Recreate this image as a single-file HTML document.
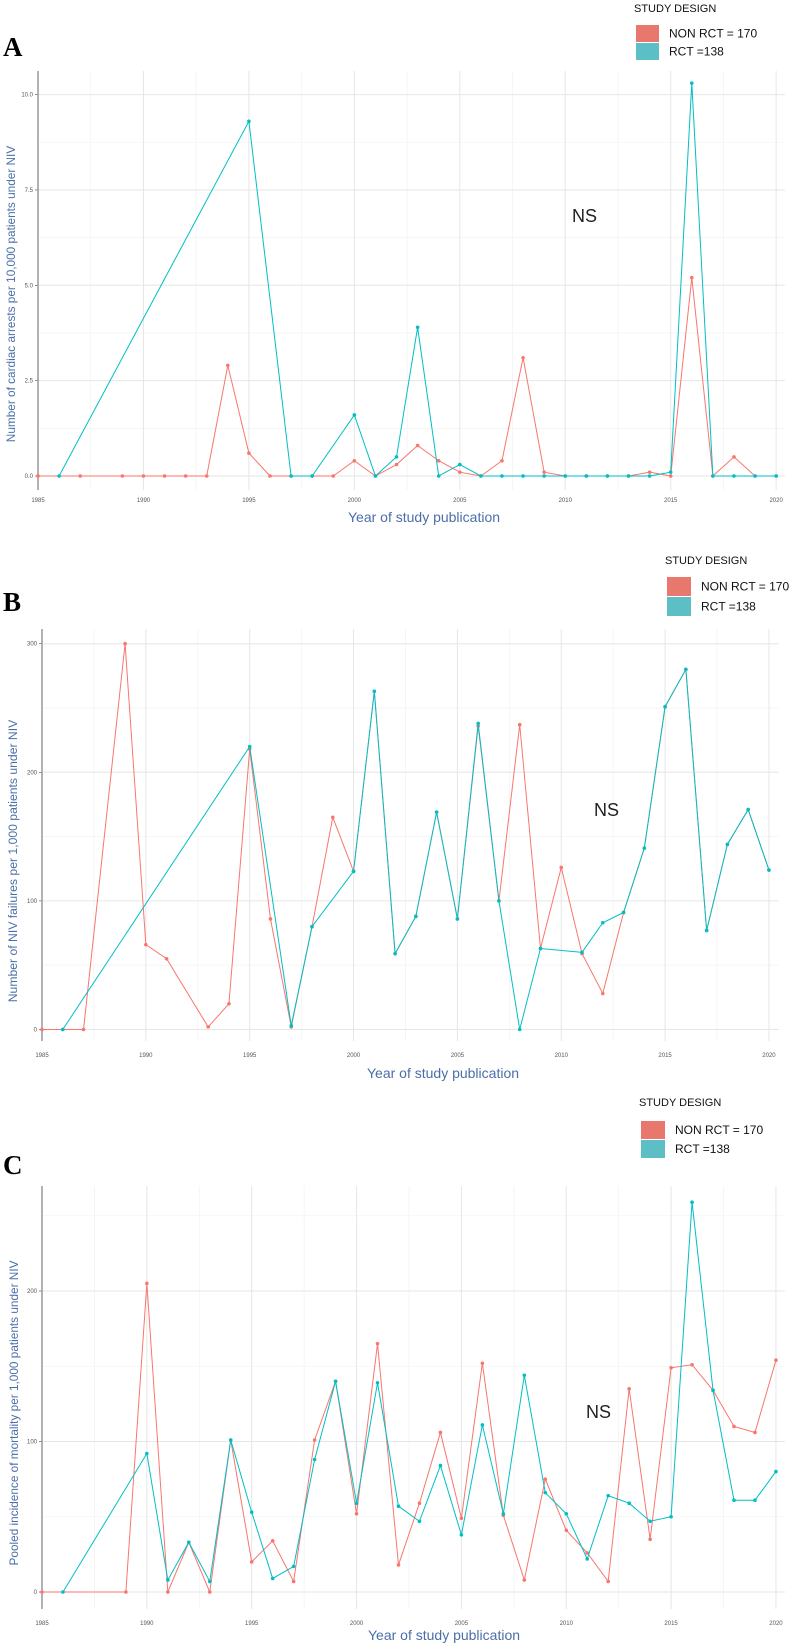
<!DOCTYPE html>
<html><head><meta charset="utf-8">
<style>
body{margin:0;background:#fff;}
svg{display:block;font-family:"Liberation Sans",sans-serif;}
</style></head>
<body>
<svg id="chart" width="793" height="1649" viewBox="0 0 793 1649" xmlns="http://www.w3.org/2000/svg"></svg>
<script>
// ---- Panel A data ----
const aRedYears = [1985,1987,1989,1990,1991,1992,1993,1994,1995,1996,1997,1998,1999,2000,2001,2002,2003,2004,2005,2006,2007,2008,2009,2010,2011,2012,2013,2014,2015,2016,2017,2018,2019,2020];
const aRedVals  = [0,0,0,0,0,0,0,2.9,0.6,0,0,0,0,0.4,0,0.3,0.8,0.4,0.1,0,0.4,3.1,0.1,0,0,0,0,0.1,0,5.2,0,0.5,0,0];
const aTealYears = [1986,1995,1997,1998,2000,2001,2002,2003,2004,2005,2006,2007,2008,2009,2010,2011,2012,2013,2014,2015,2016,2017,2018,2019,2020];
const aTealVals  = [0,9.3,0,0,1.6,0,0.5,3.9,0,0.3,0,0,0,0,0,0,0,0,0,0.1,10.3,0,0,0,0];
const aYTicks = [0,2.5,5,7.5,10];
const aYTickLabels = ["0.0","2.5","5.0","7.5","10.0"];
// ---- Panel B data ----
const bRedYears = [1985,1986,1987,1989,1990,1991,1993,1994,1995,1996,1997,1998,1999,2000,2001,2002,2003,2004,2005,2006,2007,2008,2009,2010,2011,2012,2013,2014,2015,2016,2017,2018,2019,2020];
const bRedVals  = [0,0,0,300,66,55,2,20,218,86,2,80,165,123,263,59,88,169,86,236,100,237,63,126,59,28,91,141,251,280,77,144,171,124];
const bTealYears = [1986,1995,1997,1998,2000,2001,2002,2003,2004,2005,2006,2007,2008,2009,2011,2012,2013,2014,2015,2016,2017,2018,2019,2020];
const bTealVals  = [0,220,3,80,123,263,59,88,169,86,238,100,0,63,60,83,91,141,251,280,77,144,171,124];
const bYTicks = [0,100,200,300];
const bYTickLabels = ["0","100","200","300"];
// ---- Panel C data ----
const cRedYears = [1985,1989,1990,1991,1992,1993,1994,1995,1996,1997,1998,1999,2000,2001,2002,2003,2004,2005,2006,2007,2008,2009,2010,2011,2012,2013,2014,2015,2016,2017,2018,2019,2020];
const cRedVals  = [0,0,205,0,33,0,101,20,34,7,101,140,52,165,18,59,106,49,152,51,8,75,41,26,7,135,35,149,151,134,110,106,154];
const cTealYears = [1986,1990,1991,1992,1993,1994,1995,1996,1997,1998,1999,2000,2001,2002,2003,2004,2005,2006,2007,2008,2009,2010,2011,2012,2013,2014,2015,2016,2017,2018,2019,2020];
const cTealVals  = [0,92,8,33,7,101,53,9,17,88,140,59,139,57,47,84,38,111,52,144,66,52,22,64,59,47,50,259,134,61,61,80];
const cYTicks = [0,100,200];
const cYTickLabels = ["0","100","200"];
const xTicks = [1985,1990,1995,2000,2005,2010,2015,2020];

const NS="http://www.w3.org/2000/svg";
const svg=document.getElementById('chart');
function mk(tag,attrs,parent){const e=document.createElementNS(NS,tag);for(const k in attrs)e.setAttribute(k,attrs[k]);(parent||svg).appendChild(e);return e;}

function panel(cfg){
  const g=mk('g',{});
  
  
  const xs=yr=>cfg.x0+(yr-1985)*cfg.xStep;
  const ys=v=>cfg.y0-v*cfg.yUnit;
  for(let yr=1987.5;yr<=2022.5;yr+=5){const x=xs(yr);if(x<cfg.r)mk('line',{x1:x,x2:x,y1:cfg.top,y2:cfg.bottom,stroke:'#f3f3f3','stroke-width':0.8},g);}
  for(let i=0;i<cfg.yTicks.length;i++){const v=cfg.yTicks[i]+cfg.minorStep;const y=ys(v);if(y>cfg.top)mk('line',{x1:cfg.x0,x2:cfg.r,y1:y,y2:y,stroke:'#f3f3f3','stroke-width':0.8},g);}
  xTicks.forEach(t=>{const x=xs(t);mk('line',{x1:x,x2:x,y1:cfg.top,y2:cfg.bottom,stroke:'#e6e6e6','stroke-width':1},g);
    const tl=mk('text',{x:x,y:cfg.xLabY,'font-size':6,fill:'#555','text-anchor':'middle'},g);tl.textContent=t;
    
    });
  cfg.yTicks.forEach((t,i)=>{const y=ys(t);mk('line',{x1:cfg.x0,x2:cfg.r,y1:y,y2:y,stroke:'#e6e6e6','stroke-width':1},g);
    mk('line',{x1:cfg.x0-3,x2:cfg.x0,y1:y,y2:y,stroke:'#444','stroke-width':0.6},g);
    const tl=mk('text',{x:cfg.x0-5,y:y+2,'font-size':6,fill:'#555','text-anchor':'end'},g);tl.textContent=cfg.yTickLabels[i];
    
    });
  const ax=mk('line',{x1:cfg.x0,x2:cfg.x0,y1:cfg.top,y2:cfg.bottom,stroke:'#999','stroke-width':1.5},g);
  
  
  [[cfg.redY,cfg.redV,'#F8766D','non-rct'],[cfg.tealY,cfg.tealV,'#00BFC4','rct']].forEach(([yrs,vals,col,nm])=>{
    const pts=yrs.map((yr,i)=>xs(yr)+','+ys(vals[i])).join(' ');
    const pl=mk('polyline',{points:pts,fill:'none',stroke:col,'stroke-width':1},g);
    
    
    yrs.forEach((yr,i)=>{const c=mk('circle',{cx:xs(yr),cy:ys(vals[i]),r:1.8,fill:col},g);
      
      });
  });
  const xt=mk('text',{x:cfg.xTitleX,y:cfg.xTitleY,'font-size':14,fill:'#4a6fa8','text-anchor':'middle','xml:space':'preserve'},g);
  xt.textContent='Year  of study publication';
  
  
  const yt=mk('text',{x:0,y:0,'font-size':cfg.yTitleSize,fill:'#4a6fa8','text-anchor':'middle',transform:`translate(${cfg.yTitleX},${cfg.yTitleY}) rotate(-90)`},g);
  yt.textContent=cfg.yTitle;
  
  
  const ns=mk('text',{x:cfg.nsX,y:cfg.nsY,'font-size':18,fill:'#222'},g);ns.textContent='NS';
  
  
  const lt=mk('text',{x:cfg.letX,y:cfg.letY,'font-size':27,'font-weight':'bold','font-family':'Liberation Serif, serif',fill:'#000'},g);lt.textContent=cfg.letter;
  
  
  const lg=mk('g',{},g);
  
  
  const tt=mk('text',{x:cfg.legX-2,y:cfg.legY,'font-size':11,fill:'#111'},lg);tt.textContent='STUDY DESIGN';
  
  
  [['#E8776D','NON RCT = 170'],['#5CBFC6','RCT =138']].forEach(([col,lab],i)=>{
    const y=cfg.legY+cfg.legOff+i*(cfg.swH+1);
    const r=mk('rect',{x:cfg.legX,y:y,width:cfg.swW,height:cfg.swH,fill:col},lg);
    
    
    const t=mk('text',{x:cfg.legX+cfg.swW+10,y:y+cfg.swH/2+4,'font-size':12,fill:'#111'},lg);t.textContent=lab;
    
    
  });
}
panel({name:'panel-a',letter:'A',letX:3,letY:56,x0:38,xStep:21.09,y0:476,yUnit:38.14,top:71,bottom:490,r:785,minorStep:1.25,
  yTicks:aYTicks,yTickLabels:aYTickLabels,redY:aRedYears,redV:aRedVals,tealY:aTealYears,tealV:aTealVals,xLabY:502,
  xTitleX:424,xTitleY:522,yTitleX:15,yTitleY:294,yTitleSize:11.8,yTitle:'Number of  cardiac arrests per 10,000 patients under NIV',
  nsX:572,nsY:222,legX:636,legY:12,legOff:13,swW:23,swH:17});
panel({name:'panel-b',letter:'B',letX:3,letY:611,x0:42,xStep:20.77,y0:1029.5,yUnit:1.286,top:629,bottom:1041,r:779,minorStep:50,
  yTicks:bYTicks,yTickLabels:bYTickLabels,redY:bRedYears,redV:bRedVals,tealY:bTealYears,tealV:bTealVals,xLabY:1057,
  xTitleX:443,xTitleY:1078,yTitleX:17,yTitleY:861,yTitleSize:12.2,yTitle:'Number of  NIV failures per 1,000 patients under NIV',
  nsX:594,nsY:816,legX:667,legY:564,legOff:13,swW:24,swH:19});
panel({name:'panel-c',letter:'C',letX:3,letY:1174,x0:42,xStep:20.97,y0:1592,yUnit:1.505,top:1186,bottom:1609,r:785,minorStep:50,
  yTicks:cYTicks,yTickLabels:cYTickLabels,redY:cRedYears,redV:cRedVals,tealY:cTealYears,tealV:cTealVals,xLabY:1625,
  xTitleX:444,xTitleY:1640,yTitleX:18,yTitleY:1413,yTitleSize:11.8,yTitle:'Pooled incidence of mortality per 1,000 patients under NIV',
  nsX:586,nsY:1418,legX:641,legY:1106,legOff:15,swW:24,swH:18});
</script>
</body></html>
